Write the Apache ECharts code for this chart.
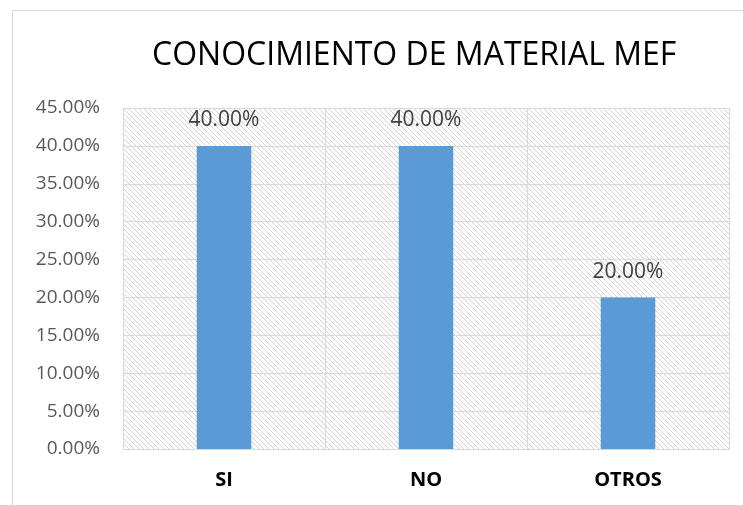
<!DOCTYPE html>
<html>
<head>
<meta charset="utf-8">
<script src="https://cdn.jsdelivr.net/npm/echarts@6/dist/echarts.min.js"></script>
<style>
  html, body { margin: 0; padding: 0; background: #fff; }
  #chart { width: 743px; height: 505px; }
  .frame { position: absolute; left: 12px; top: 10px; width: 740px; height: 500px; border: 1px solid #d9d9d9; pointer-events: none; }
</style>
</head>
<body>
<div id="chart"></div>
<div class="frame"></div>
<script>
  var categories = ['SI', 'NO', 'OTROS']
  var values = [40, 40, 20]
  var yMax = 45
  var yStep = 5

  // fondo rayado del área de trazado
  function hatchPattern () {
    var c = document.createElement('canvas')
    c.width = 5
    c.height = 5
    var ctx = c.getContext('2d')
    ctx.fillStyle = '#ffffff'
    ctx.fillRect(0, 0, 5, 5)
    ctx.strokeStyle = '#d4d4d4'
    ctx.lineWidth = 1
    ctx.beginPath()
    ctx.moveTo(-1, -1); ctx.lineTo(6, 6)
    ctx.moveTo(-1, 4); ctx.lineTo(1, 6)
    ctx.moveTo(4, -1); ctx.lineTo(6, 1)
    ctx.stroke()
    return c
  }

  var chart = echarts.init(document.getElementById('chart'))
  var option = {
    animation: false,
    title: {
      text: 'CONOCIMIENTO DE MATERIAL MEF',
      left: 147,
      top: 35,
      textStyle: {
        fontFamily: 'Open Sans',
        fontWeight: 'normal',
        fontSize: 32,
        color: '#000'
      }
    },
    grid: {
      left: 123,
      right: 14,
      top: 108,
      bottom: 56,
      show: true,
      backgroundColor: { image: hatchPattern(), repeat: 'repeat' },
      borderWidth: 0
    },
    xAxis: {
      type: 'category',
      data: categories,
      axisLine: { lineStyle: { color: '#d9d9d9', width: 1 } },
      axisTick: { show: false },
      splitLine: { show: true, lineStyle: { color: '#d9d9d9', width: 1 } },
      axisLabel: {
        margin: 21,
        fontFamily: 'Open Sans',
        fontWeight: 'bold',
        fontSize: 20,
        color: '#000'
      }
    },
    yAxis: {
      type: 'value',
      min: 0,
      max: yMax,
      interval: yStep,
      axisLine: { show: false },
      axisTick: { show: false },
      splitLine: { lineStyle: { color: '#d9d9d9', width: 1 } },
      axisLabel: {
        margin: 23,
        fontFamily: 'Open Sans',
        fontSize: 19,
        color: '#595959',
        formatter: function (v) { return v.toFixed(2) + '%' }
      }
    },
    series: [{
      type: 'bar',
      data: values,
      barWidth: '27%',
      itemStyle: { color: '#5b9bd5' },
      label: {
        show: true,
        position: 'top',
        distance: 15,
        fontFamily: 'Open Sans',
        fontSize: 21,
        color: '#404040',
        formatter: function (p) { return p.value.toFixed(2) + '%' }
      }
    }]
  }
  chart.setOption(option)
</script>
</body>
</html>
